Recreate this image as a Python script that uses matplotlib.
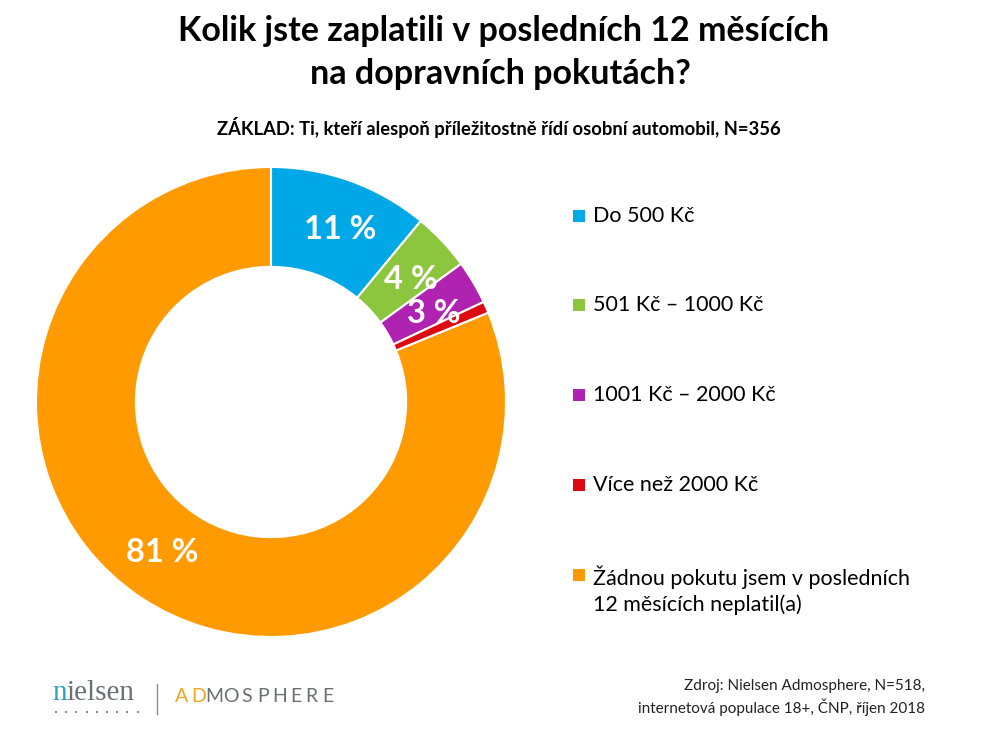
import matplotlib
matplotlib.use("Agg")
import matplotlib.pyplot as plt
import numpy as np
from matplotlib.patches import Rectangle
from matplotlib.lines import Line2D

plt.rcParams['font.family'] = ['Lato', 'DejaVu Sans']

# data
categories = ['Do 500 Kč', '501 Kč – 1000 Kč', '1001 Kč – 2000 Kč',
              'Více než 2000 Kč',
              'Žádnou pokutu jsem v posledních\n12 měsících neplatil(a)']
shares = [11, 4, 3, 0.8, 81.2]
pct_labels = ['11 %', '4 %', '3 %', '', '81 %']
colors = ['#00A8E8', '#8CC63E', '#B022B0', '#DD0A14', '#FF9A00']

W, H = 1001, 731
fig = plt.figure(figsize=(W / 100, H / 100), dpi=100)

# donut: centre (271, 402) px, outer radius 235 px
cx, cy, R = 271, 402, 235
ax = fig.add_axes([(cx - R) / W, (H - cy - R) / H, 2 * R / W, 2 * R / H])
wedges, _ = ax.pie(shares, colors=colors, startangle=90, counterclock=False,
                   radius=1.0, wedgeprops=dict(width=0.425, edgecolor='white', linewidth=1.5))
ax.set_xlim(-1, 1)
ax.set_ylim(-1, 1)
ax.set_aspect('equal')
ax.axis('off')

# percentage labels inside the ring
start = 90.0
for s, lab in zip(shares, pct_labels):
    mid = np.deg2rad(start - s * 3.6 / 2 - 2)
    start -= s * 3.6
    if lab:
        ax.text(0.79 * np.cos(mid), 0.79 * np.sin(mid), lab, ha='center', va='center',
                color='white', fontsize=23.5, fontweight='bold')

# title and subtitle
fig.text(504 / W, 1 - 31 / H, 'Kolik jste zaplatili v posledních 12 měsících',
         ha='center', va='center', fontsize=24.5, fontweight='bold', color='black')
fig.text(500 / W, 1 - 74 / H, 'na dopravních pokutách?',
         ha='center', va='center', fontsize=24.5, fontweight='bold', color='black')
fig.text(499 / W, 1 - 127 / H,
         'ZÁKLAD: Ti, kteří alespoň příležitostně řídí osobní automobil, N=356',
         ha='center', va='center', fontsize=13.2, fontweight='bold', color='black')

# legend drawn by hand
rows_y = [216, 305, 395, 485, 575]
for yy, lab, col in zip(rows_y, categories, colors):
    fig.patches.append(Rectangle((573 / W, 1 - (yy + 6) / H), 12 / W, 12 / H,
                                 transform=fig.transFigure, facecolor=col, edgecolor='none'))
    if '\n' in lab:
        fig.text(593 / W, 1 - (yy + 15) / H, lab, ha='left', va='center',
                 fontsize=15.5, color='black', linespacing=1.3)
    else:
        fig.text(593 / W, 1 - yy / H, lab, ha='left', va='center',
                 fontsize=15.5, color='black')

# source note
fig.text(925 / W, 1 - 686 / H, 'Zdroj: Nielsen Admosphere, N=518,',
         ha='right', va='center', fontsize=11, color='#222222')
fig.text(925 / W, 1 - 707 / H, 'internetová populace 18+, ČNP, říjen 2018',
         ha='right', va='center', fontsize=11, color='#222222')

# logos (text)
t_n = fig.text(52 / W, 1 - 700 / H, 'n', ha='left', va='baseline', fontsize=21,
               family='Liberation Serif', color='#2A9FC9')
fig.canvas.draw()
bb = t_n.get_window_extent()
fig.text(bb.x1 / W, 1 - 700 / H, 'ielsen', ha='left', va='baseline', fontsize=21,
         family='Liberation Serif', color='#6C7075')
for i in range(9):
    fig.patches.append(Rectangle(((55 + i * 10.2) / W, 1 - 713 / H), 2 / W, 2 / H,
                                 transform=fig.transFigure, facecolor='#8A8C90', edgecolor='none'))
fig.lines.append(Line2D([157 / W, 157 / W], [1 - 684 / H, 1 - 714 / H],
                        transform=fig.transFigure, color='#8A8C90', linewidth=1))
for i, ch in enumerate('ADMOSPHERE'):
    fig.text((182 + i * 16.2) / W, 1 - 697 / H, ch, ha='center', va='center', fontsize=14,
             color='#F2A623' if i < 2 else '#6C6E71')

fig.savefig('out.png', dpi=100, facecolor='white')
